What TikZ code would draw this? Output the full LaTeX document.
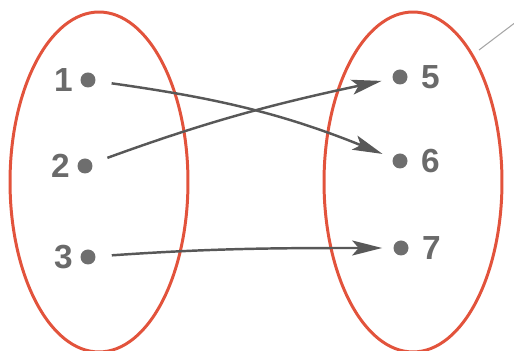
\documentclass[tikz,border=0pt]{standalone}
\usepackage{fontspec}
\setmainfont{Liberation Sans}
\usetikzlibrary{shapes.geometric,arrows.meta,positioning}
\definecolor{setred}{HTML}{E2533C}
\definecolor{mapgray}{HTML}{585858}
\definecolor{dotgray}{HTML}{6E6E6E}
\definecolor{numgray}{HTML}{6A6A6A}

\begin{document}
\begin{tikzpicture}[
    x=0.02cm, y=0.02cm,
    set/.style={ellipse, draw=setred, line width=1.7pt, minimum width=3.56cm, minimum height=6.8cm, inner sep=0pt},
    elem/.style={circle, fill=dotgray, minimum size=0.3cm, inner sep=0pt},
    num/.style={font=\fontsize{19}{21}\selectfont\bfseries, text=numgray, inner sep=0pt},
    arrow/.style={-{Stealth[length=0.6cm, width=0.3cm, inset=0.13cm]}, draw=mapgray, line width=1.4pt, shorten <=0.32cm, shorten >=0.22cm},
    pointer/.style={draw=gray!70, line width=0.6pt}
]
\useasboundingbox (0,0) rectangle (514,351);

% Sets
\node[set] (domain) at (99,169) {};
\node[set] (codomain) at (413,169) {};

% Elements of the domain
\node[elem] (p1) at (88,271) {};
\node[elem] (p2) at (85,185) {};
\node[elem] (p3) at (88,94) {};
\node[num, left=0.14cm of p1] (n1) {1};
\node[num, left=0.14cm of p2] (n2) {2};
\node[num, left=0.14cm of p3] (n3) {3};

% Elements of the codomain
\node[elem] (q5) at (400,274) {};
\node[elem] (q6) at (400,190) {};
\node[elem] (q7) at (401,103) {};
\node[num, right=0.26cm of q5] (n5) {5};
\node[num, right=0.26cm of q6] (n6) {6};
\node[num, right=0.26cm of q7] (n7) {7};

% Mapping
\draw[arrow] (p1) to[out=-8, in=158] (q6);
\draw[arrow] (p2) to[out=20, in=192] (q5);
\draw[arrow] (p3) to[out=4, in=180] (q7);

% Pointer
\coordinate (ptrA) at (479,301);
\coordinate (ptrB) at (516,329);
\draw[pointer] (ptrA) -- (ptrB);

\end{tikzpicture}
\end{document}
